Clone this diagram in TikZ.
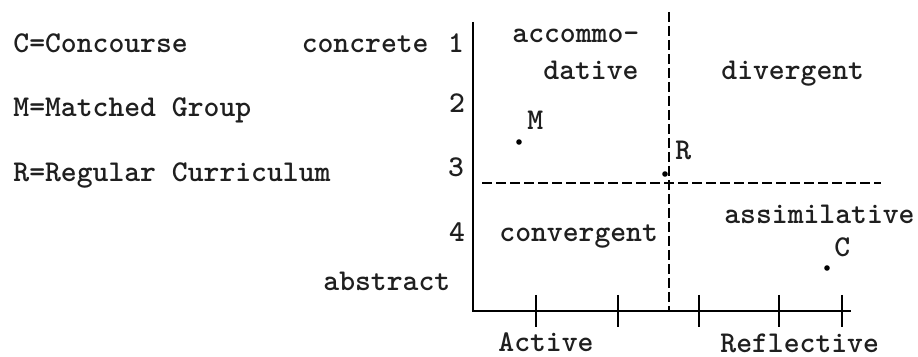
\documentclass[tikz,border=0pt]{standalone}
\begin{document}
\begin{tikzpicture}[x=0.5pt,y=-0.5pt,
  lbl/.style={font=\fontsize{15.1}{18}\selectfont\ttfamily\bfseries, inner sep=0pt, text=black!88},
  axisline/.style={line width=1pt},
  divider/.style={line width=1.3pt, dash pattern=on 5pt off 2pt},
  tickmark/.style={line width=1pt},
  datapt/.style={circle, fill=black, inner sep=0pt, minimum size=2.8pt}]
\useasboundingbox (0,0) rectangle (918,357);

% axes
\coordinate (ytop) at (473,22);
\coordinate (origin) at (473,311);
\coordinate (xend) at (851,311);
\draw[axisline] (ytop) -- (origin) -- (xend);
\foreach \t in {536,618,699,779,842}
  \draw[tickmark] (\t,295) -- (\t,327);

% quadrant dividers
\coordinate (vtop) at (669,12);
\coordinate (vbot) at (669,311);
\coordinate (hleft) at (482,183);
\coordinate (hright) at (881,183);
\draw[divider] (vtop) -- (vbot);
\draw[divider] (hleft) -- (hright);

% legend
\node[lbl, anchor=base west] (legC) at (13,53) {C=Concourse};
\node[lbl, anchor=base west] (legM) at (13,117) {M=Matched Group};
\node[lbl, anchor=base west] (legR) at (13,182) {R=Regular Curriculum};

% vertical scale
\node[lbl, anchor=base east] (concrete) at (429,53) {concrete};
\node[lbl, anchor=base] (n1) at (456,53) {1};
\node[lbl, anchor=base] (n2) at (457,113) {2};
\node[lbl, anchor=base] (n3) at (456,177) {3};
\node[lbl, anchor=base] (n4) at (457,242) {4};
\node[lbl, anchor=base west] (abstract) at (323,291) {abstract};

% horizontal scale
\node[lbl, anchor=base west] (active) at (498,352) {Active};
\node[lbl, anchor=base west] (reflective) at (720,353) {Reflective};

% quadrant names
\node[lbl, anchor=base west] (accom) at (512,43) {accommo-};
\node[lbl, anchor=base west] (dative) at (543,80) {dative};
\node[lbl, anchor=base west] (divergent) at (721,80) {divergent};
\node[lbl, anchor=base west] (convergent) at (499,242) {convergent};
\node[lbl, anchor=base east] (assim) at (915,224) {assimilative};

% group positions
\node[datapt] (dotM) at (519,142) {};
\node[datapt] (dotR) at (665,174) {};
\node[datapt] (dotC) at (827,268) {};
\node[lbl, anchor=base west] (labM) at (527,130) {M};
\node[lbl, anchor=base west] (labR) at (675,160) {R};
\node[lbl, anchor=base west] (labC) at (834,257) {C};
\end{tikzpicture}
\end{document}
